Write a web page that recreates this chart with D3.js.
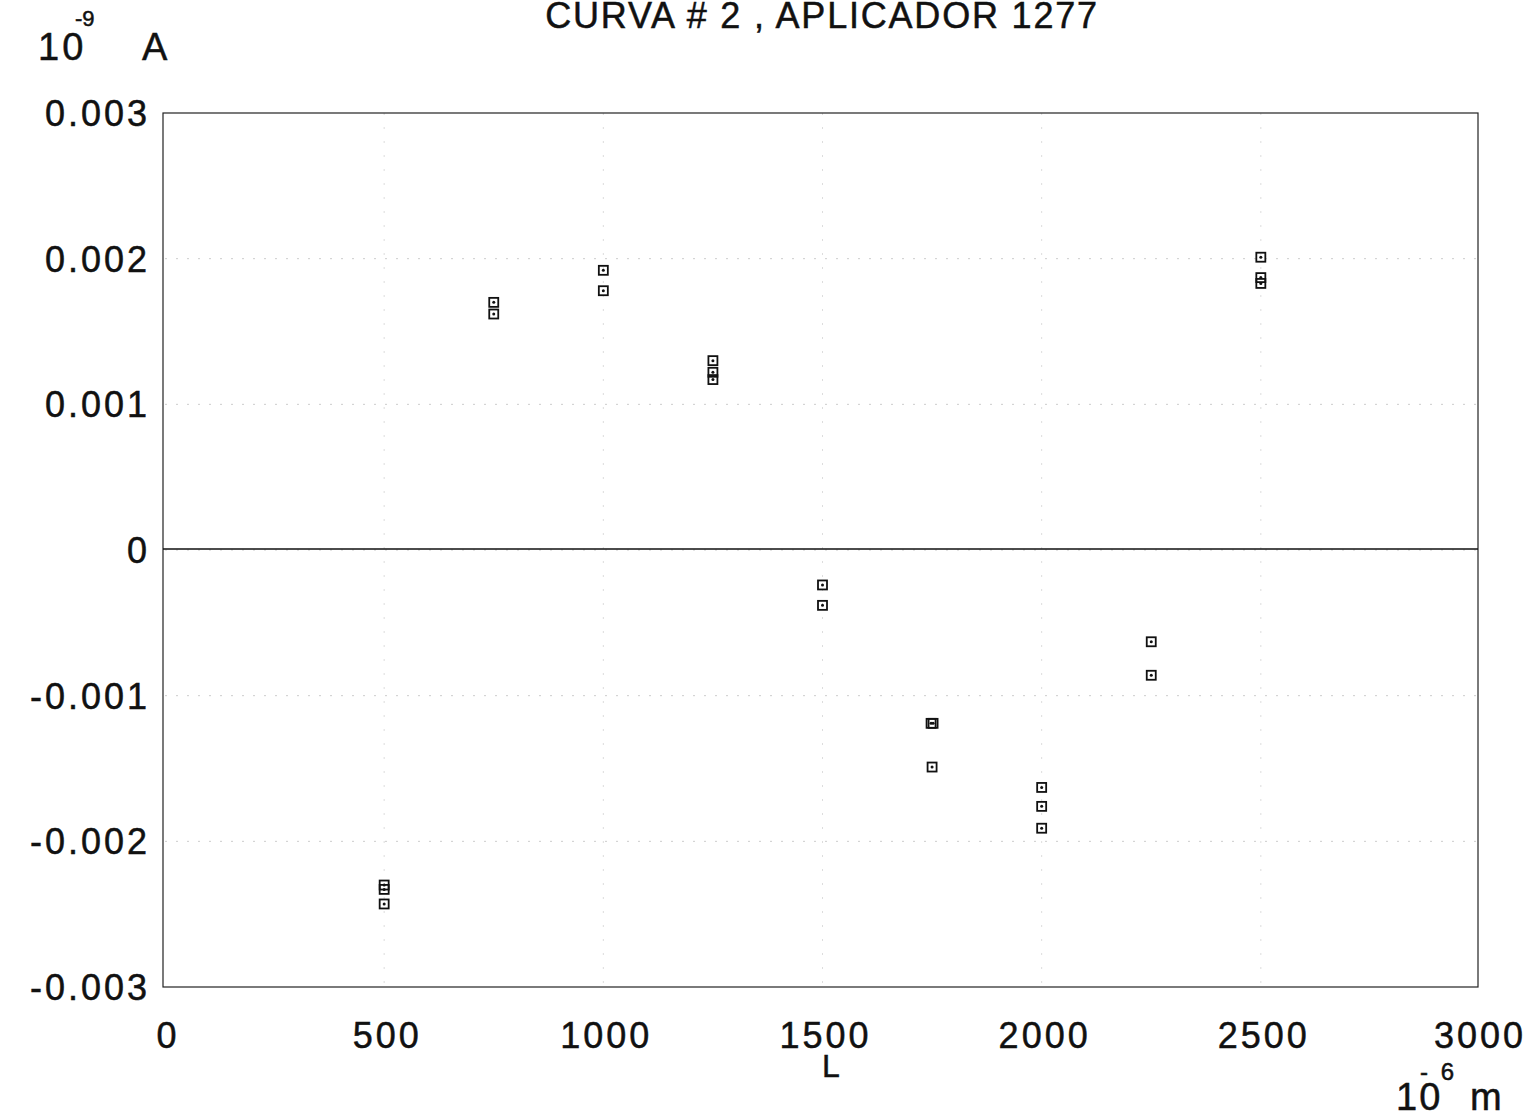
<!DOCTYPE html>
<html>
<head>
<meta charset="utf-8">
<script src="https://cdn.jsdelivr.net/npm/d3@7"></script>
<style>
  body { margin: 0; background: #fff; }
  svg text { font-family: "Liberation Sans", Arial, sans-serif; fill: #111; stroke: #111; stroke-width: 0.5px; }
  .tick-label { font-size: 36px; letter-spacing: 3px; }
  .title { font-size: 36px; letter-spacing: 1.8px; }
</style>
</head>
<body>
<div id="chart"></div>
<script>
// measured points: L (10^-6 m) and current (10^-9 A)
const lengths  = [500, 500, 500, 750, 750, 1000, 1000, 1250, 1250, 1250, 1500, 1500,
                  1750, 1750, 1750, 2000, 2000, 2000, 2250, 2250, 2500, 2500, 2500];
const currents = [-0.00230, -0.00233, -0.00243, 0.00170, 0.00162, 0.00192, 0.00178,
                  0.00130, 0.00122, 0.00117, -0.00024, -0.00038,
                  -0.00119, -0.00119, -0.00149, -0.00163, -0.00176, -0.00191,
                  -0.00063, -0.00086, 0.00201, 0.00187, 0.00183];
// small horizontal jitter seen in the picture where two markers overlap
const xNudge   = [0, 0, 0, 0, 0, 0, 0, 0, 0, 0, 0, 0, -1, 1, 0, 0, 0, 0, 0, 0, 0, 0, 0];
const xTicks = [0, 500, 1000, 1500, 2000, 2500, 3000];
const yTicks = [-0.003, -0.002, -0.001, 0, 0.001, 0.002, 0.003];
const yTickLabels = ["-0.003", "-0.002", "-0.001", "0", "0.001", "0.002", "0.003"];

const w = 1540, h = 1119;
const padL = 165, padR = 1480, padT = 113, padB = 987;

const xScale = d3.scaleLinear().domain([0, 3000]).range([padL, padR]);
const yScale = d3.scaleLinear().domain([-0.003, 0.003]).range([padB, padT]);

const svg = d3.select("#chart").append("svg")
  .attr("width", w).attr("height", h);

// faint dotted grid
svg.append("g").selectAll("line")
  .data(yTicks.slice(1, -1))
  .enter().append("line")
  .attr("x1", padL).attr("x2", padR)
  .attr("y1", d => yScale(d)).attr("y2", d => yScale(d))
  .attr("stroke", "#ccc").attr("stroke-width", 1)
  .attr("stroke-dasharray", "2,9");
svg.append("g").selectAll("line")
  .data(xTicks.slice(1, -1))
  .enter().append("line")
  .attr("y1", padT).attr("y2", padB)
  .attr("x1", d => xScale(d)).attr("x2", d => xScale(d))
  .attr("stroke", "#ddd").attr("stroke-width", 1)
  .attr("stroke-dasharray", "2,12");

// frame
svg.append("rect")
  .attr("x", padL - 2).attr("y", padT)
  .attr("width", padR - padL).attr("height", padB - padT)
  .attr("fill", "none").attr("stroke", "#222").attr("stroke-width", 1.2);

// zero line
svg.append("line")
  .attr("x1", padL - 2).attr("x2", padR - 2)
  .attr("y1", yScale(0) - 1).attr("y2", yScale(0) - 1)
  .attr("stroke", "#111").attr("stroke-width", 1.4);

// y tick labels
svg.append("g").selectAll("text")
  .data(yTicks)
  .enter().append("text")
  .attr("class", "tick-label")
  .attr("x", 150)
  .attr("y", d => yScale(d) + 13)
  .attr("text-anchor", "end")
  .text((d, i) => yTickLabels[i]);

// x tick labels
svg.append("g").selectAll("text")
  .data(xTicks)
  .enter().append("text")
  .attr("class", "tick-label")
  .attr("x", d => xScale(d) + (d === 3000 ? 0 : 3))
  .attr("y", 1048)
  .attr("text-anchor", "middle")
  .text(d => d);

// markers: square with a dot
const pts = svg.append("g").selectAll("g")
  .data(lengths.map((l, i) => ({l: l, c: currents[i], dx: xNudge[i]})))
  .enter().append("g")
  .attr("transform", d => "translate(" + (xScale(d.l) + d.dx) + "," + yScale(d.c) + ")");
pts.append("rect")
  .attr("x", -4.5).attr("y", -4.5).attr("width", 9).attr("height", 9)
  .attr("fill", "none").attr("stroke", "#111").attr("stroke-width", 1.8);
pts.append("circle")
  .attr("r", 1.5).attr("fill", "#111");

// title
svg.append("text")
  .attr("class", "title")
  .attr("x", 822).attr("y", 28)
  .attr("text-anchor", "middle")
  .text("CURVA # 2 , APLICADOR 1277");

// y unit
svg.append("text").attr("x", 38).attr("y", 60)
  .style("font-size", "38px").attr("letter-spacing", 3).text("10");
svg.append("text").attr("x", 75).attr("y", 26)
  .style("font-size", "22px").text("-9");
svg.append("text").attr("x", 142).attr("y", 60)
  .style("font-size", "38px").text("A");

// x label and unit
svg.append("text")
  .attr("x", 831).attr("y", 1077)
  .attr("text-anchor", "middle")
  .style("font-size", "32px")
  .text("L");
svg.append("text").attr("x", 1396).attr("y", 1110)
  .style("font-size", "38px").attr("letter-spacing", 2).text("10");
svg.append("text").attr("x", 1420).attr("y", 1080)
  .style("font-size", "24px").attr("letter-spacing", 3).text("- 6");
svg.append("text").attr("x", 1470).attr("y", 1110)
  .style("font-size", "38px").text("m");
</script>
</body>
</html>
